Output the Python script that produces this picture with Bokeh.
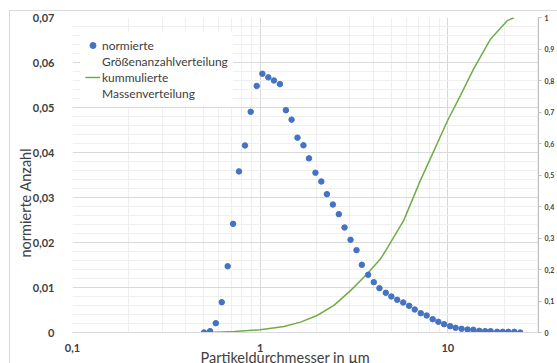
from bokeh.plotting import figure
from bokeh.models import (Range1d, LinearAxis, FixedTicker, CustomJSTickFormatter,
                          Legend, LegendItem, Title, InlineStyleSheet)
from bokeh.embed import file_html
from bokeh.resources import INLINE

# ---------------- data ----------------
diameter = [0.502, 0.541, 0.580, 0.624, 0.671, 0.717, 0.771, 0.830, 0.890, 0.958,
            1.027, 1.105, 1.184, 1.274, 1.371, 1.47, 1.58, 1.70, 1.82, 1.97,
            2.117, 2.267, 2.439, 2.624, 2.815, 3.03, 3.26, 3.48, 3.76, 4.03,
            4.32, 4.67, 5.00, 5.37, 5.78, 6.22, 6.66, 7.17, 7.71, 8.30,
            8.90, 9.55, 10.28, 11.0, 11.84, 12.74, 13.67, 14.7, 15.8, 16.9,
            18.3, 19.6, 21.0, 22.6, 24.3]
norm_count = [0.0, 0.0003, 0.00207, 0.00673, 0.01473, 0.02415, 0.0358, 0.04156, 0.04904, 0.0548,
              0.0575, 0.0567, 0.0560, 0.0552, 0.0494, 0.0473, 0.0433, 0.0416, 0.0387, 0.0355,
              0.03356, 0.03074, 0.02844, 0.0263, 0.02333, 0.0206, 0.0183, 0.01504, 0.01282, 0.01118,
              0.00985, 0.00882, 0.0080, 0.00727, 0.00667, 0.00593, 0.00511, 0.00429, 0.00378, 0.00296,
              0.00237, 0.00185, 0.0014, 0.00104, 0.00081, 0.00067, 0.0006, 0.00037, 0.0003, 0.0003,
              0.00015, 0.00015, 0.00015, 0.00015, 0.0]

mass_diameter = [0.54, 0.73, 1.0, 1.34, 1.64, 2.01, 2.47, 3.03, 3.71, 4.38,
                 4.7, 5.82, 7.14, 8.76, 9.97, 11.66, 13.72, 16.9, 20.7, 22.5]
mass_cum = [0.0, 0.003, 0.0085, 0.019, 0.033, 0.054, 0.086, 0.133, 0.186, 0.234,
            0.263, 0.356, 0.483, 0.599, 0.673, 0.752, 0.837, 0.932, 0.990, 0.999]

x_ticks = [0.1, 1, 10]
x_minor = [0.2, 0.3, 0.4, 0.5, 0.6, 0.7, 0.8, 0.9, 2, 3, 4, 5, 6, 7, 8, 9, 20, 30]
y_ticks = [0, 0.01, 0.02, 0.03, 0.04, 0.05, 0.06, 0.07]
y_minor = [0.002, 0.004, 0.006, 0.008, 0.012, 0.014, 0.016, 0.018, 0.022, 0.024, 0.026, 0.028,
           0.032, 0.034, 0.036, 0.038, 0.042, 0.044, 0.046, 0.048, 0.052, 0.054, 0.056, 0.058,
           0.062, 0.064, 0.066, 0.068]
y2_ticks = [0, 0.1, 0.2, 0.3, 0.4, 0.5, 0.6, 0.7, 0.8, 0.9, 1]

FONT = "Lato"
TXT = "#404040"

p = figure(width=557, height=363, x_axis_type="log",
           x_range=Range1d(0.1, 30.4), y_range=Range1d(0, 0.07),
           output_backend="svg", toolbar_location=None,
           min_border_left=72, min_border_right=19, min_border_top=17, min_border_bottom=31)
p.outline_line_color = None
p.background_fill_color = "white"
p.border_fill_color = "white"
p.stylesheets = [InlineStyleSheet(css=(
    ":host::after{content:'';position:absolute;left:9px;top:10px;width:600px;height:400px;"
    "border:1px solid #d9d9d9;pointer-events:none;box-sizing:border-box;}"))]

# x axis
p.xaxis.ticker = FixedTicker(ticks=x_ticks, minor_ticks=x_minor)
p.xaxis.formatter = CustomJSTickFormatter(code="return tick.toString().replace('.', ',');")
p.xaxis.axis_line_color = "#d9d9d9"
p.xaxis.major_tick_line_color = None
p.xaxis.minor_tick_line_color = None
p.xaxis.major_label_standoff = 5
p.xaxis.major_label_text_font = FONT
p.xaxis.major_label_text_font_size = "11px"
p.xaxis.major_label_text_font_style = "bold"
p.xaxis.major_label_text_color = TXT

# left y axis
p.yaxis.ticker = FixedTicker(ticks=y_ticks, minor_ticks=y_minor)
p.yaxis.formatter = CustomJSTickFormatter(
    code="return tick == 0 ? '0' : tick.toFixed(2).replace('.', ',');")
p.yaxis.axis_line_color = None
p.yaxis.major_tick_line_color = None
p.yaxis.minor_tick_line_color = None
p.yaxis.major_label_standoff = 12
p.yaxis.major_label_text_font = FONT
p.yaxis.major_label_text_font_size = "11px"
p.yaxis.major_label_text_font_style = "bold"
p.yaxis.major_label_text_color = TXT

# grids
for g in (p.xgrid, p.ygrid):
    g.grid_line_color = "#d9d9d9"
    g.grid_line_width = 1
    g.minor_grid_line_color = "#efefef"
    g.minor_grid_line_width = 1

# right axis
p.extra_y_ranges = {"mass": Range1d(0, 1)}
ax2 = LinearAxis(y_range_name="mass", ticker=FixedTicker(ticks=y2_ticks),
                 formatter=CustomJSTickFormatter(
                     code="return tick == 0 ? '0' : (Math.abs(tick-1) < 1e-9 ? '1' : tick.toFixed(1).replace('.', ','));"))
ax2.axis_line_color = "#bfbfbf"
ax2.major_tick_line_color = "#bfbfbf"
ax2.major_tick_in = 0
ax2.major_tick_out = 3
ax2.minor_tick_line_color = None
ax2.major_label_standoff = 3
ax2.major_label_text_font = FONT
ax2.major_label_text_font_size = "7px"
ax2.major_label_text_font_style = "bold"
ax2.major_label_text_color = TXT
p.add_layout(ax2, "right")

# glyphs
r_line = p.line(mass_diameter, mass_cum, y_range_name="mass",
                line_color="#70AD47", line_width=1.5)
r_pts = p.scatter(diameter, norm_count, size=5.5, fill_color="#4472C4",
                  line_color="#4472C4")
dummy = p.scatter(x=[], y=[], alpha=0)

legend = Legend(items=[
    LegendItem(label="normierte", renderers=[r_pts]),
    LegendItem(label="Größenanzahlverteilung", renderers=[dummy]),
    LegendItem(label="kummulierte", renderers=[r_line]),
    LegendItem(label="Massenverteilung", renderers=[dummy]),
], location=(8, 226))
legend.padding = 5
legend.spacing = 0
legend.margin = 0
legend.label_height = 16
legend.glyph_height = 16
legend.glyph_width = 15
legend.label_standoff = 2
legend.border_line_alpha = 0
legend.background_fill_color = "white"
legend.background_fill_alpha = 1
legend.label_text_font = FONT
legend.label_text_font_size = "12px"
legend.label_text_color = TXT
p.add_layout(legend)

# axis titles
p.add_layout(Title(text="normierte Anzahl", align="left", offset=75, standoff=-13,
                   vertical_align="top",
                   text_font=FONT, text_font_size="14.5px", text_font_style="normal",
                   text_color=TXT), "left")
p.add_layout(Title(text="Partikeldurchmesser in µm", align="left", offset=128, standoff=-13,
                   vertical_align="middle",
                   text_font=FONT, text_font_size="14.5px", text_font_style="normal",
                   text_color=TXT), "below")

open("out.html", "w").write(file_html(p, INLINE))
